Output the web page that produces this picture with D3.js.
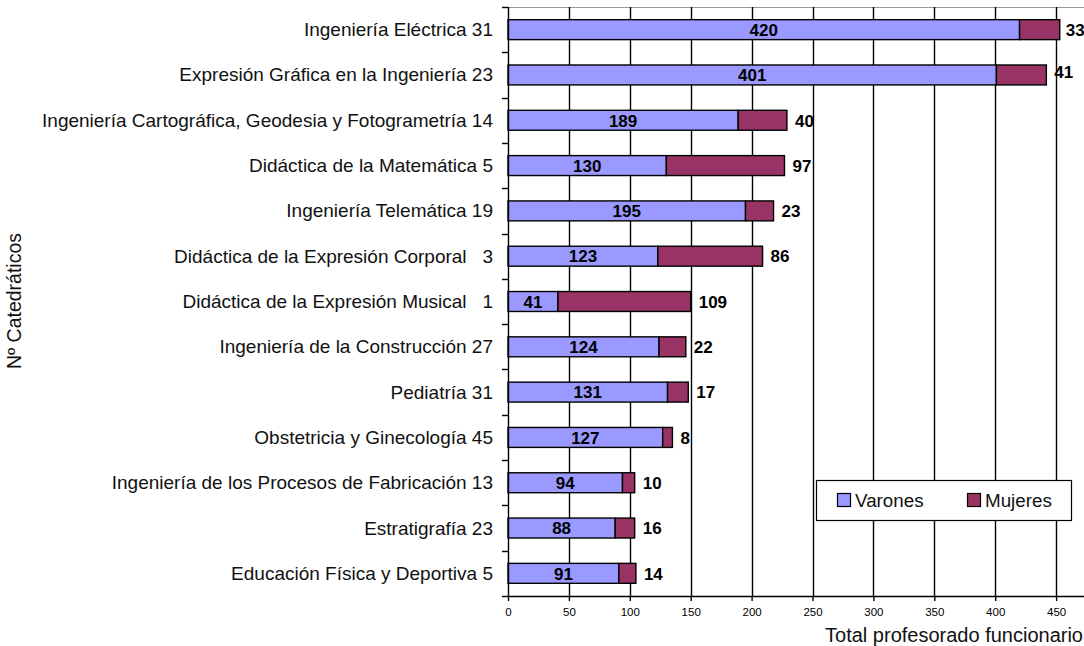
<!DOCTYPE html>
<html><head><meta charset="utf-8">
<script src="https://cdn.jsdelivr.net/npm/d3@7"></script>
<style>body{margin:0;background:#fff}svg{display:block;font-family:"Liberation Sans",Arial,sans-serif}</style>
</head><body><svg id="c" width="1084" height="646"></svg>
<script>
const categories = [
 "Ingeniería Eléctrica 31",
 "Expresión Gráfica en la Ingeniería 23",
 "Ingeniería Cartográfica, Geodesia y Fotogrametría 14",
 "Didáctica de la Matemática 5",
 "Ingeniería Telemática 19",
 "Didáctica de la Expresión Corporal   3",
 "Didáctica de la Expresión Musical   1",
 "Ingeniería de la Construcción 27",
 "Pediatría 31",
 "Obstetricia y Ginecología 45",
 "Ingeniería de los Procesos de Fabricación 13",
 "Estratigrafía 23",
 "Educación Física y Deportiva 5"
];
const varones = [420,401,189,130,195,123,41,124,131,127,94,88,91];
const mujeres = [33,41,40,97,23,86,109,22,17,8,10,16,14];
const xTicks = [0,50,100,150,200,250,300,350,400,450];
const seriesNames = ["Varones","Mujeres"];
const colors = ["#9999FF","#993366"];

const svg = d3.select("#c");
const L=508, T=7, B=596, W=1117-508;
const x = d3.scaleLinear().domain([0,500]).range([L, L+W]);
const y = d3.scaleBand().domain(categories).range([T,B]).paddingInner(0.56).paddingOuter(0.28);
const yb = d3.scaleBand().domain(categories).range([T,B]);

// top border
svg.append("line").attr("x1",L).attr("x2",1084).attr("y1",T+0.5).attr("y2",T+0.5).attr("stroke","#999").attr("stroke-width",1);
// gridlines
svg.append("g").selectAll("line").data(xTicks.slice(1)).join("line")
 .attr("x1",d=>Math.round(x(d))+0.5).attr("x2",d=>Math.round(x(d))+0.5)
 .attr("y1",T).attr("y2",B).attr("stroke","#000").attr("stroke-width",1.4);

// bars
const g = svg.append("g");
categories.forEach((c,i)=>{
  const yy = y(c), h = y.bandwidth(), cy = yy+h/2;
  g.append("rect").attr("x",x(0)).attr("y",yy).attr("width",x(varones[i])-x(0)).attr("height",h)
   .attr("fill",colors[0]).attr("stroke","#000").attr("stroke-width",1.4);
  g.append("rect").attr("x",x(varones[i])).attr("y",yy).attr("width",x(varones[i]+mujeres[i])-x(varones[i])).attr("height",h)
   .attr("fill",colors[1]).attr("stroke","#000").attr("stroke-width",1.4);
  g.append("text").attr("x",(x(0)+x(varones[i]))/2).attr("y",cy+6.3).attr("text-anchor","middle")
   .attr("font-weight","bold").attr("font-size",17).text(varones[i]);
  g.append("text").attr("x",x(varones[i]+mujeres[i])+(i==0?6:8)).attr("y",cy+6.3-(i==1?3:0)).attr("text-anchor","start")
   .attr("font-weight","bold").attr("font-size",17).text(mujeres[i]);
});

// x axis
const xa = svg.append("g").attr("transform",`translate(0,${B})`)
 .call(d3.axisBottom(x).tickValues(xTicks).tickSize(5).tickSizeOuter(0));
xa.select(".domain").attr("stroke","#000").attr("stroke-width",1.4).attr("d",`M${L},0.5H1084`);
xa.selectAll(".tick line").attr("stroke","#000").attr("stroke-width",1.4);
xa.selectAll("text").attr("font-size",11.5).attr("font-family","Liberation Sans, Arial, sans-serif").attr("y",20).attr("dy",0).attr("fill","#000");

// y axis
svg.append("line").attr("x1",L+0.5).attr("x2",L+0.5).attr("y1",T).attr("y2",B).attr("stroke","#000").attr("stroke-width",1.4);
svg.append("g").selectAll("line").data(categories.concat(["__end"])).join("line")
 .attr("x1",L-6).attr("x2",L)
 .attr("y1",(d,i)=> i<categories.length? Math.round(yb(d))+0.5 : B+0.5)
 .attr("y2",(d,i)=> i<categories.length? Math.round(yb(d))+0.5 : B+0.5)
 .attr("stroke","#000").attr("stroke-width",1.4);
svg.append("g").selectAll("text").data(categories).join("text")
 .attr("x",493).attr("y",d=>yb(d)+yb.bandwidth()/2+6.5).attr("text-anchor","end")
 .attr("font-size",19).attr("fill","#111").style("white-space","pre").text(d=>d);

// axis titles
svg.append("text").attr("x",1083).attr("y",642).attr("text-anchor","end").attr("font-size",20).attr("fill","#111").text("Total profesorado funcionario");
svg.append("text").attr("transform","translate(21,301) rotate(-90)").attr("text-anchor","middle").attr("font-size",19.5).attr("fill","#111").text("Nº Catedráticos");

// legend
const lg = svg.append("g");
lg.append("rect").attr("x",816.5).attr("y",480.5).attr("width",255).attr("height",40).attr("fill","#fff").attr("stroke","#000").attr("stroke-width",1.2);
const lx = [837.5, 967.5];
seriesNames.forEach((s,i)=>{
  lg.append("rect").attr("x",lx[i]).attr("y",493.5).attr("width",13).attr("height",13).attr("fill",colors[i]).attr("stroke","#000").attr("stroke-width",1.2);
  lg.append("text").attr("x",lx[i]+17.5).attr("y",506.5).attr("font-size",18.8).attr("fill","#111").text(s);
});
</script></body></html>
